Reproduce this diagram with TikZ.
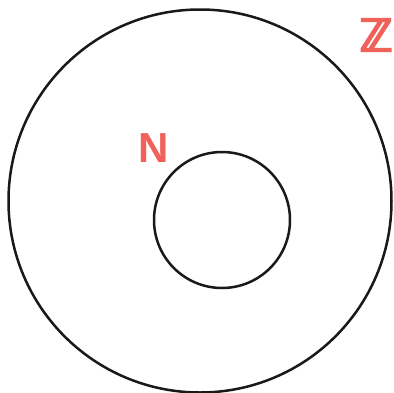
\documentclass[tikz,border=0pt]{standalone}
\usepackage{fontspec}
\setmainfont{Liberation Sans}
\newfontfamily\zfam[FakeBold=5]{DejaVu Sans}
\definecolor{lblred}{HTML}{F0615A}
\begin{document}
\begin{tikzpicture}[x=1pt,y=-1pt,
  ring/.style={draw=black!90,line width=2.5pt},
  lbl/.style={text=lblred,inner sep=0pt}]
\useasboundingbox (0,0) rectangle (394,392);
\node[ring,circle,minimum size=383pt,inner sep=0pt] (outer) at (200,201) {};
\node[ring,circle,minimum size=136pt,inner sep=0pt] (inner) at (222,220) {};
\node[lbl,font=\bfseries\fontsize{42}{42}\selectfont] (N) at (154,148) {N};
\node[lbl,font=\zfam\fontsize{44}{44}\selectfont] (Z) at (376,35) {ℤ};
\end{tikzpicture}
\end{document}
